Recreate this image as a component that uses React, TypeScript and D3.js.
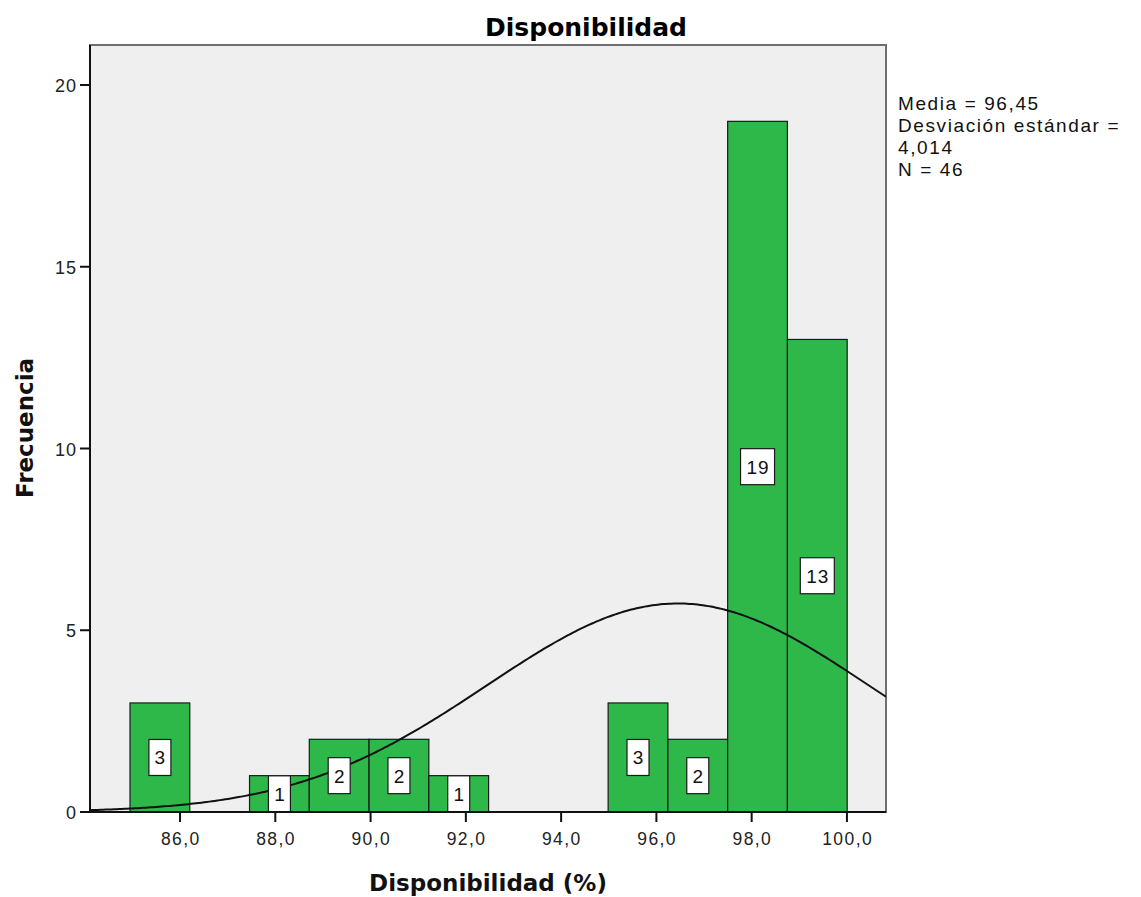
import React from "react";
import * as d3 from "d3";

const binStart = 84.95;
const binWidth = 1.2546;
const counts = [3, 0, 1, 2, 2, 1, 0, 0, 3, 2, 19, 13];
const xTicks = [86, 88, 90, 92, 94, 96, 98, 100];
const yTicks = [0, 5, 10, 15, 20];
const meanVal = 96.45;
const sdVal = 4.014;
const nVal = 46;
const statsLines = ["Media = 96,45", "Desviación estándar =", "4,014", "N = 46"];

export default function App() {
  const W = 1141, H = 897;
  const left = 90, right = 886, top = 45, bottom = 812;
  const x = d3.scaleLinear().domain([84.11, 100.82]).range([left, right]);
  const y = d3.scaleLinear().domain([0, 20]).range([bottom, 85]);
  const bins = counts.map((c, i) => ({ c, x0: binStart + i * binWidth, x1: binStart + (i + 1) * binWidth }));
  const pdf = (v: number) => (nVal * binWidth) / (sdVal * Math.sqrt(2 * Math.PI)) * Math.exp(-0.5 * ((v - meanVal) / sdVal) ** 2);
  const pts = d3.range(0, 301).map((i) => 84.11 + (i / 300) * (100.82 - 84.11));
  const line = d3.line<number>().x((v) => x(v)).y((v) => y(pdf(v)))(pts) || "";
  const font = "'Liberation Sans', Arial, sans-serif";
  const bold = "'DejaVu Sans', sans-serif";
  return (
    <svg width={W} height={H} style={{ position: "absolute", left: 0, top: 0 }} fontFamily={font}>
      <rect x={0} y={0} width={W} height={H} fill="#fff" />
      <text x={586} y={36} textAnchor="middle" fontSize={25} fontWeight="bold" fontFamily={bold} fill="#000">Disponibilidad</text>
      <rect x={left} y={top} width={right - left} height={bottom - top} fill="#efefef" stroke="#6e6e6e" strokeWidth={2} />
      <clipPath id="pc"><rect x={left} y={top} width={right - left} height={bottom - top} /></clipPath>
      {bins.filter((b) => b.c > 0).map((b, i) => (
        <rect key={i} x={x(b.x0)} y={y(b.c)} width={x(b.x1) - x(b.x0)} height={bottom - y(b.c)} fill="#2fb84a" stroke="#1a1a1a" strokeWidth={1.2} />
      ))}
      <path d={line} fill="none" stroke="#111" strokeWidth={2} clipPath="url(#pc)" />
      {bins.filter((b) => b.c > 0).map((b, i) => {
        const cx = x((b.x0 + b.x1) / 2);
        const cy = y(b.c / 2);
        const w = String(b.c).length > 1 ? 34 : 22;
        return (
          <g key={"l" + i}>
            <rect x={cx - w / 2} y={cy - 18} width={w} height={36} fill="#fff" stroke="#1a1a1a" strokeWidth={1.2} />
            <text x={cx + 0.5} y={cy + 7} textAnchor="middle" fontSize={19} letterSpacing={1} fill="#111">{b.c}</text>
          </g>
        );
      })}
      <line x1={left} x2={left} y1={top} y2={bottom} stroke="#111" strokeWidth={2} />
      <line x1={left} x2={right} y1={bottom} y2={bottom} stroke="#111" strokeWidth={2} />
      {yTicks.map((t) => (
        <g key={"y" + t}>
          <line x1={left - 10} x2={left} y1={y(t)} y2={y(t)} stroke="#111" strokeWidth={2} />
          <text x={left - 13} y={y(t) + 7} textAnchor="end" fontSize={18} letterSpacing={1} fill="#222">{t}</text>
        </g>
      ))}
      {xTicks.map((t) => (
        <g key={"x" + t}>
          <line x1={x(t)} x2={x(t)} y1={bottom} y2={bottom + 10} stroke="#111" strokeWidth={2} />
          <text x={x(t) + 0.7} y={bottom + 33} textAnchor="middle" fontSize={17.5} letterSpacing={1.4} fill="#222">{t.toFixed(1).replace(".", ",")}</text>
        </g>
      ))}
      <text x={(left + right) / 2} y={891} textAnchor="middle" fontSize={23} fontWeight="bold" fontFamily={bold} fill="#111">Disponibilidad (%)</text>
      <text transform={`translate(33, ${428}) rotate(-90)`} textAnchor="middle" fontSize={23} fontWeight="bold" fontFamily={bold} fill="#111">Frecuencia</text>
      {statsLines.map((s, i) => (
        <text key={s} x={898} y={110 + i * 22} fontSize={19} letterSpacing={1.6} fill="#111">{s}</text>
      ))}
    </svg>
  );
}
